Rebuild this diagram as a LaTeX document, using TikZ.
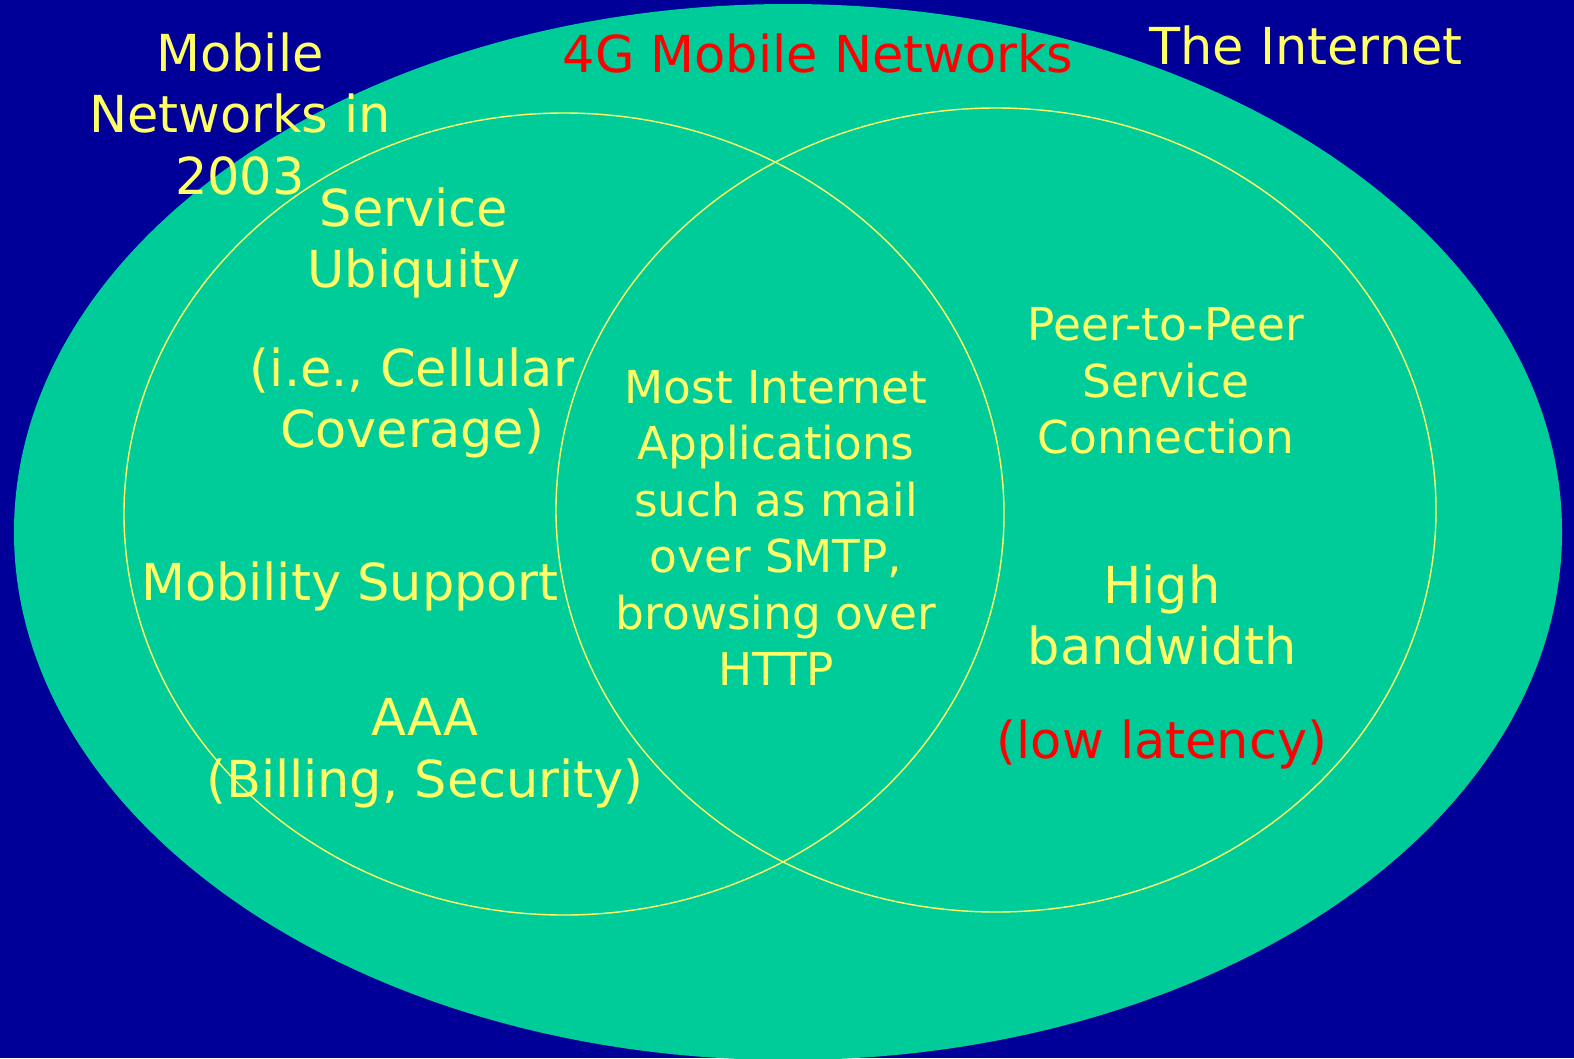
\documentclass[tikz,border=0pt]{standalone}
\usepackage{fontspec}
\setmainfont{DejaVu Sans}
\definecolor{slidenavy}{HTML}{000099}
\definecolor{slidegreen}{HTML}{00CC99}
\definecolor{slideyellow}{HTML}{FFFF66}
\definecolor{slidered}{HTML}{FF0000}
\begin{document}
\begin{tikzpicture}[x=0.02cm,y=-0.02cm,
  big/.style={align=center,text=slideyellow,font=\fontsize{29}{35}\selectfont},
  small/.style={align=center,text=slideyellow,font=\fontsize{25.8}{32.2}\selectfont},
  ring/.style={draw=slideyellow,line width=0.8pt}]
 \fill[slidenavy] (0,0) rectangle (1574,1058);
 \useasboundingbox (0,0) rectangle (1574,1058);
 \fill[slidegreen] (788,532) ellipse [x radius=774, y radius=528];
 \draw[ring] (564,514) ellipse [x radius=440, y radius=401];
 \draw[ring] (996,510) ellipse [x radius=440, y radius=402];
    \node[big] (mobile) at (240,114) {Mobile\\Networks in\\2003};
    \node[big,text=slidered] (fourg) at (818,54) {4G Mobile Networks};
    \node[big] (internet) at (1306,46) {The Internet};
    \node[big] (ubiquity) at (414,243) {Service\\Ubiquity};
    \node[big] (coverage) at (412,403) {(i.e., Cellular\\Coverage)};
    \node[big] (mobility) at (350,586) {Mobility Support};
    \node[big] (aaa) at (425,753) {AAA\\(Billing, Security)};
    \node[small] (apps) at (776,528) {Most Internet\\Applications\\such as mail\\over SMTP,\\browsing over\\HTTP};
    \node[small] (peer) at (1166,381) {Peer-to-Peer\\Service\\Connection};
    \node[big] (bandwidth) at (1162,615) {High\\bandwidth};
    \node[big,text=slidered] (latency) at (1162,744) {(low latency)};
\end{tikzpicture}
\end{document}
